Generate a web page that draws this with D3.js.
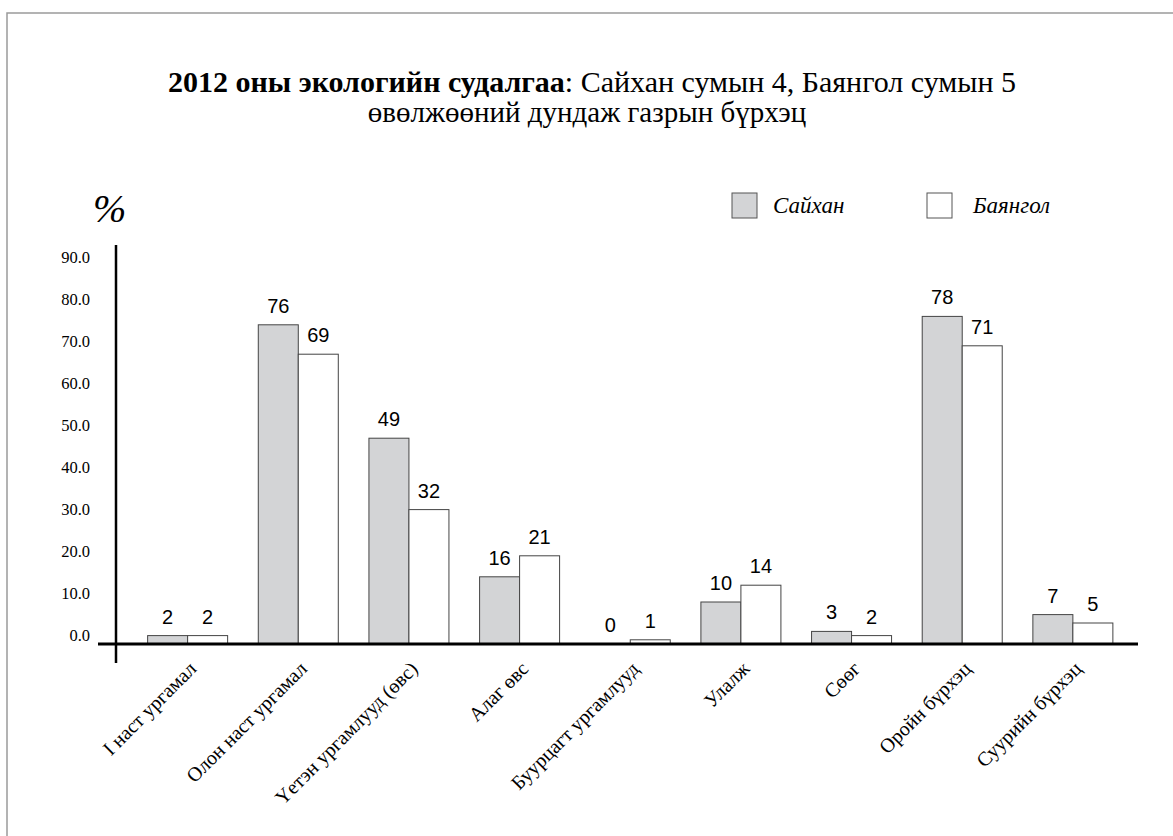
<!DOCTYPE html>
<html lang="mn">
<head>
<meta charset="UTF-8" />
<title>2012 оны экологийн судалгаа</title>
<script src="https://d3js.org/d3.v7.min.js"></script>
<style>
  body { margin: 0; background: #fff; }
  .serif { font-family: "Liberation Serif", "Times New Roman", serif; }
  .sans { font-family: "Liberation Sans", Arial, sans-serif; }
</style>
</head>
<body>
<div id="chart"></div>
<script>
// ангиллууд ба утгууд
const categories = [
  "I наст ургамал", "Олон наст ургамал", "Үетэн ургамлууд (өвс)", "Алаг өвс",
  "Буурцагт ургамлууд", "Улалж", "Сөөг", "Оройн бүрхэц", "Суурийн бүрхэц"
];
const series = ["Сайхан", "Баянгол"];
const saikhan = [2, 76, 49, 16, 0, 10, 3, 78, 7];
const bayangol = [2, 69, 32, 21, 1, 14, 2, 71, 5];
const yTicks = [0, 10, 20, 30, 40, 50, 60, 70, 80, 90];

const colors = { "Сайхан": "#d3d4d6", "Баянгол": "#ffffff" };

const width = 1173, height = 836;

const svg = d3.select("#chart").append("svg")
  .attr("width", width)
  .attr("height", height);

// хүрээ
svg.append("rect")
  .attr("x", 7).attr("y", 13)
  .attr("width", 1300).attr("height", 1000)
  .attr("fill", "none")
  .attr("stroke", "#9a9a9a")
  .attr("stroke-width", 1.5);

// гарчиг
const title = svg.append("text")
  .attr("class", "serif")
  .attr("x", 592).attr("y", 92)
  .attr("text-anchor", "middle")
  .attr("font-size", 30);
title.append("tspan").attr("font-weight", "bold").text("2012 оны экологийн судалгаа");
title.append("tspan").text(": Сайхан сумын 4, Баянгол сумын 5");

svg.append("text")
  .attr("class", "serif")
  .attr("x", 587).attr("y", 122)
  .attr("text-anchor", "middle")
  .attr("font-size", 29)
  .text("өвөлжөөний дундаж газрын бүрхэц");

// хувь
svg.append("text")
  .attr("class", "serif")
  .attr("x", 93).attr("y", 222)
  .attr("font-size", 40)
  .attr("font-style", "italic")
  .text("%");

const data = categories.map((c, i) => ({
  cat: c,
  values: [
    { key: series[0], value: saikhan[i] },
    { key: series[1], value: bayangol[i] }
  ]
}));

const x = d3.scaleBand()
  .domain(categories)
  .range([132.3, 1128.2])
  .paddingInner(0.277)
  .paddingOuter(0.1385);

const x1 = d3.scaleBand()
  .domain(series)
  .range([0, x.bandwidth()]);

const y = d3.scaleLinear()
  .domain([0, 90])
  .range([644, 266]);

// y тэнхлэгийн шошго
svg.append("g")
  .selectAll("text")
  .data(yTicks)
  .join("text")
  .attr("class", "serif")
  .attr("x", 90)
  .attr("y", d => y(d) - 9)
  .attr("dy", "0.35em")
  .attr("text-anchor", "end")
  .attr("font-size", 16.5)
  .text(d => d3.format(".1f")(d));

// багана
const groups = svg.append("g")
  .selectAll("g")
  .data(data)
  .join("g")
  .attr("transform", d => `translate(${x(d.cat)},0)`);

groups.selectAll("rect")
  .data(d => d.values)
  .join("rect")
  .attr("x", d => x1(d.key))
  .attr("y", d => y(d.value))
  .attr("width", x1.bandwidth())
  .attr("height", d => y(0) - y(d.value))
  .attr("fill", d => colors[d.key])
  .attr("stroke", "#444")
  .attr("stroke-width", 1);

groups.selectAll("text")
  .data(d => d.values)
  .join("text")
  .attr("class", "sans")
  .attr("x", d => x1(d.key) + x1.bandwidth() / 2)
  .attr("y", d => y(d.value) - 12)
  .attr("text-anchor", "middle")
  .attr("font-size", 20)
  .text(d => d.value);

// тэнхлэгүүд
svg.append("line")
  .attr("x1", 98).attr("x2", 1138)
  .attr("y1", y(0)).attr("y2", y(0))
  .attr("stroke", "#000").attr("stroke-width", 3);

svg.append("line")
  .attr("x1", 116).attr("x2", 116)
  .attr("y1", 245).attr("y2", 663)
  .attr("stroke", "#000").attr("stroke-width", 2.5);

// x тэнхлэгийн шошго
svg.append("g")
  .selectAll("text")
  .data(categories)
  .join("text")
  .attr("class", "serif")
  .attr("font-size", 20)
  .attr("text-anchor", "end")
  .attr("transform", d => `translate(${x(d) + x.bandwidth() / 2 + 10},670) rotate(-45)`)
  .text(d => d);

// тайлбар
const legend = svg.append("g")
  .selectAll("g")
  .data(series)
  .join("g")
  .attr("transform", (d, i) => `translate(${732 + i * 195},193)`);

legend.append("rect")
  .attr("width", 25).attr("height", 25)
  .attr("fill", d => colors[d])
  .attr("stroke", "#555")
  .attr("stroke-width", 1);

legend.append("text")
  .attr("class", "serif")
  .attr("x", (d, i) => i === 0 ? 41 : 46)
  .attr("y", 20)
  .attr("font-size", 23)
  .attr("font-style", "italic")
  .text(d => d);
</script>
</body>
</html>
